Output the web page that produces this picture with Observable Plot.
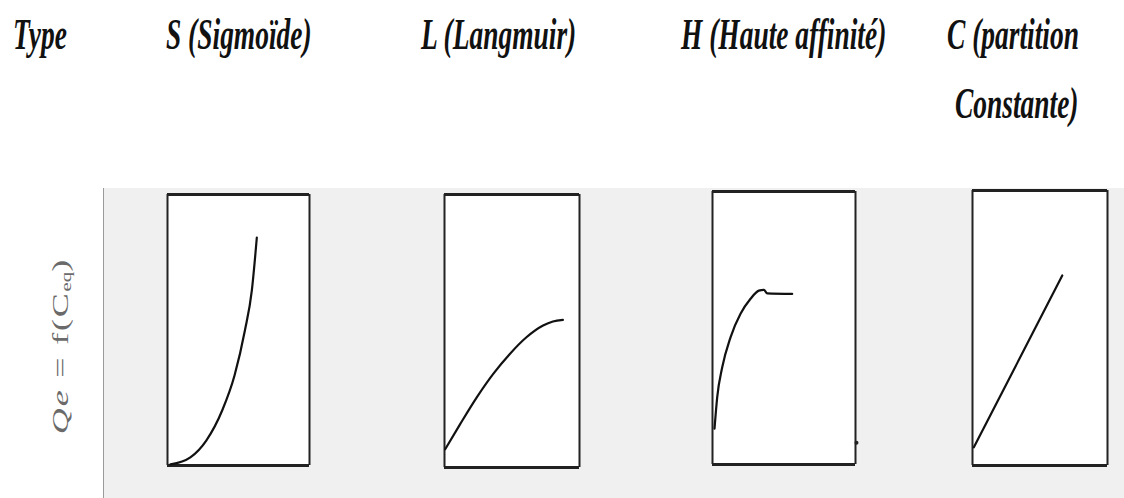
<!DOCTYPE html>
<html>
<head>
<meta charset="utf-8">
<script src="https://cdn.jsdelivr.net/npm/d3@7"></script>
<script src="https://cdn.jsdelivr.net/npm/@observablehq/plot@0.6"></script>
<style>
  html, body { margin: 0; padding: 0; background: #fff; }
  #root { position: relative; width: 1124px; height: 498px; overflow: hidden; background: #fff; }
  #grey { position: absolute; left: 103px; top: 188px; right: 0; bottom: 0; background: #f0f0f0; border-left: 1px solid #9a9a9a; }
  .title { position: absolute; font-family: "Liberation Serif", "Times New Roman", serif; font-style: italic; font-weight: bold;
           font-size: 28px; line-height: 28px; white-space: nowrap; color: #111; transform: scale(0.98, 1.55); transform-origin: 0 0; }
  #ylab { position: absolute; left: 61px; top: 346px; font-family: "Liberation Serif", serif; font-size: 24px; color: #6a6a6a;
          letter-spacing: 1.2px; white-space: nowrap; transform: translate(-50%, -50%) rotate(-90deg) scale(1.5, 1); }
  #ylab sub { font-size: 14px; letter-spacing: 0; vertical-align: -3px; }
  .panel { position: absolute; }
</style>
</head>
<body>
<div id="root">
  <div id="grey"></div>
</div>
<script>
// Titles
const headerLabel = "Type";
const typeLabels = ["S (Sigmoïde)", "L (Langmuir)", "H (Haute affinité)", "C (partition"];
const typeLabel2 = "Constante)";

// Curve readings (Ceq, Qe in % of each panel's range)
const sCeq = [2.1, 16.1, 27.3, 38.5, 47.2, 54.5, 59.4, 62.9];
const sQe  = [0.4, 3.0, 9.2, 20.3, 33.2, 49.8, 64.6, 84.1];

const lCeq = [0.5, 11.6, 23.9, 36.1, 48.4, 60.7, 73.0, 80.3, 87.7];
const lQe  = [6.7, 15.9, 25.7, 34.3, 41.6, 47.7, 52.0, 53.5, 54.1];

const hCeq = [1.4, 3.3, 6.8, 12.6, 19.6, 26.6, 32.4, 35.9, 38.3, 55.7];
const hQe  = [13.1, 24.7, 35.6, 46.6, 55.2, 60.7, 63.7, 64.0, 62.7, 62.5];

const cCeq = [1, 66.5];
const cQe  = [6.6, 69.1];

const root = document.getElementById("root");

// title texts
const titleSpecs = [
  {text: headerLabel, left: 13, top: 13},
  {text: typeLabels[0], left: 166, top: 13},
  {text: typeLabels[1], left: 421, top: 13},
  {text: typeLabels[2], left: 681, top: 13},
  {text: typeLabels[3], left: 947, top: 13},
  {text: typeLabel2, left: 955, top: 82}
];
for (const t of titleSpecs) {
  const d = document.createElement("div");
  d.className = "title";
  d.textContent = t.text;
  d.style.left = t.left + "px";
  d.style.top = t.top + "px";
  root.appendChild(d);
}

// y label
const yl = document.createElement("div");
yl.id = "ylab";
yl.innerHTML = '<i>Qe</i> = f(C<sub>eq</sub>)';
root.appendChild(yl);

function panel(box, xs, ys, extra = []) {
  const m = 3;
  const w = box.x2 - box.x1, h = box.y2 - box.y1;
  const data = xs.map((x, i) => ({x, y: ys[i]}));
  const svg = Plot.plot({
    width: w + 2 * m,
    height: h + 2 * m,
    margin: m,
    style: {background: "transparent", overflow: "visible"},
    x: {domain: [0, 100], axis: null},
    y: {domain: [0, 100], axis: null},
    marks: [
      Plot.frame({fill: "white", stroke: null}),
      Plot.ruleX([0, 100], {stroke: "#222", strokeWidth: 2}),
      Plot.ruleY([0, 100], {stroke: "#222", strokeWidth: 3}),
      Plot.line(data, {x: "x", y: "y", curve: "monotone-x", stroke: "#111", strokeWidth: 2.2}),
      ...extra
    ]
  });
  const div = document.createElement("div");
  div.className = "panel";
  div.style.left = (box.x1 - m) + "px";
  div.style.top = (box.y1 - m) + "px";
  div.appendChild(svg);
  root.appendChild(div);
}

panel({x1: 167, x2: 309, y1: 194, y2: 465}, sCeq, sQe);
panel({x1: 444, x2: 579, y1: 194, y2: 467}, lCeq, lQe);
panel({x1: 712, x2: 855, y1: 191, y2: 464}, hCeq, hQe,
      [Plot.dot([{x: 100, y: 8}], {x: "x", y: "y", r: 2, fill: "#222", dx: 1})]);
panel({x1: 972, x2: 1107, y1: 190, y2: 465}, cCeq, cQe);
</script>
</body>
</html>
